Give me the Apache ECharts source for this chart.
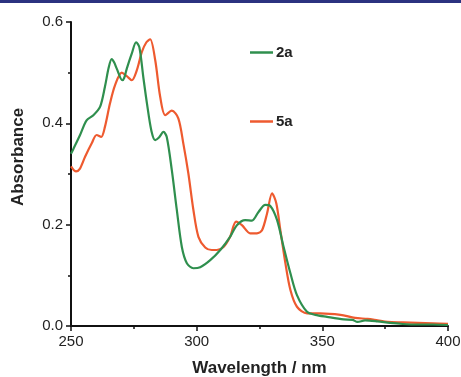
<!DOCTYPE html>
<html>
<head>
<meta charset="utf-8">
<script src="https://cdn.jsdelivr.net/npm/echarts@6/dist/echarts.min.js"></script>
<style>
  html, body { margin: 0; padding: 0; background: #fff; }
  #chart { width: 461px; height: 377px; }
</style>
</head>
<body>
<div id="chart"></div>
<script>
// 2a (green)
const wl2a = [250, 251, 253.6, 256.2, 258.9, 261.6, 263.5, 265, 266.2, 267.2, 268.2, 270.4, 271.2, 272.2, 274.2, 275.9, 277.2, 278.8, 280.2, 282, 283.5, 285, 286.8, 288.1, 290.1, 292.1, 294.1, 296.1, 298.7, 301.4, 305.4, 309.4, 313.3, 316, 319.3, 322, 324.6, 327.3, 329.3, 332, 334.6, 337.3, 339.9, 343.9, 347.2, 351.9, 358.5, 362, 364, 367, 372, 377, 382, 388, 394, 400];
const abs2a = [0.34, 0.35, 0.377, 0.406, 0.416, 0.433, 0.472, 0.51, 0.527, 0.52, 0.508, 0.485, 0.49, 0.508, 0.538, 0.56, 0.55, 0.49, 0.44, 0.385, 0.367, 0.372, 0.383, 0.373, 0.308, 0.229, 0.156, 0.124, 0.114, 0.116, 0.13, 0.15, 0.176, 0.199, 0.209, 0.208, 0.225, 0.239, 0.237, 0.209, 0.156, 0.104, 0.061, 0.028, 0.022, 0.018, 0.013, 0.012, 0.008, 0.011, 0.009, 0.006, 0.004, 0.003, 0.003, 0.002];

// 5a (red)
const wl5a = [250, 252, 253.5, 255.6, 258.2, 260.2, 262, 263.5, 265.5, 267.5, 270.2, 272.2, 274.2, 276.2, 278.2, 280, 281.5, 283.5, 285.5, 287.5, 290.1, 292.7, 294.7, 296.7, 298.7, 300.7, 303.4, 306, 308, 310.7, 313.3, 315.7, 318, 321.3, 324, 326, 328, 330, 331.7, 333.3, 335.3, 337.3, 339.9, 343.9, 349.2, 357.2, 363, 368, 372, 376, 382, 388, 394, 400];
const abs5a = [0.315, 0.305, 0.31, 0.334, 0.36, 0.377, 0.373, 0.393, 0.439, 0.475, 0.5, 0.493, 0.485, 0.505, 0.541, 0.56, 0.566, 0.525, 0.452, 0.416, 0.425, 0.41, 0.36, 0.301, 0.229, 0.176, 0.155, 0.15, 0.15, 0.156, 0.176, 0.206, 0.199, 0.183, 0.183, 0.189, 0.222, 0.262, 0.242, 0.189, 0.124, 0.071, 0.038, 0.025, 0.025, 0.022, 0.016, 0.014, 0.011, 0.008, 0.007, 0.006, 0.005, 0.004];

const GREEN = '#2f8f4e';
const RED = '#ee5a2f';
const FONT = '"Liberation Sans", Arial, sans-serif';

const pairs = (xs, ys) => xs.map((x, i) => [x, ys[i]]);

const chart = echarts.init(document.getElementById('chart'));

const legendBase = {
  left: 245,
  icon: 'rect',
  itemWidth: 23,
  itemHeight: 2.5,
  itemGap: 6,
  textStyle: { fontFamily: FONT, fontSize: 15, fontWeight: 'bold', color: '#222', padding: [0, 0, 0, -2] },
};

chart.setOption({
  backgroundColor: '#fff',
  animation: false,
  graphic: [
    { type: 'rect', shape: { x: 0, y: 0, width: 461, height: 3 }, style: { fill: '#2b3280' } },
  ],
  legend: [
    Object.assign({}, legendBase, { top: 40, data: ['2a'] }),
    Object.assign({}, legendBase, { top: 109, data: ['5a'] }),
  ],
  grid: { left: 71, right: 13, top: 22, bottom: 51, outerBoundsMode: 'none' },
  xAxis: {
    type: 'value',
    min: 250,
    max: 400,
    interval: 50,
    name: 'Wavelength / nm',
    nameLocation: 'middle',
    nameGap: 34,
    nameTextStyle: { fontFamily: FONT, fontSize: 17, fontWeight: 'bold', color: '#222' },
    axisLine: { lineStyle: { color: '#111', width: 2 } },
    axisTick: { length: 5, lineStyle: { color: '#111', width: 1.5 } },
    minorTick: { show: true, splitNumber: 2, length: 3, lineStyle: { color: '#111', width: 1.5 } },
    axisLabel: { fontFamily: FONT, fontSize: 15, color: '#222', margin: 8 },
    splitLine: { show: false },
  },
  yAxis: {
    type: 'value',
    min: 0,
    max: 0.6,
    interval: 0.2,
    name: 'Absorbance',
    nameLocation: 'middle',
    nameGap: 44,
    nameTextStyle: { fontFamily: FONT, fontSize: 17, fontWeight: 'bold', color: '#222', padding: [0, 0, 0, 34] },
    axisLine: { show: true, lineStyle: { color: '#111', width: 2 } },
    axisTick: { show: true, length: 5, lineStyle: { color: '#111', width: 1.5 } },
    minorTick: { show: true, splitNumber: 2, length: 3, lineStyle: { color: '#111', width: 1.5 } },
    axisLabel: { fontFamily: FONT, fontSize: 15, color: '#222', margin: 8, formatter: (v) => v.toFixed(1) },
    splitLine: { show: false },
  },
  series: [
    {
      name: '2a',
      type: 'line',
      data: pairs(wl2a, abs2a),
      symbol: 'none',
      smooth: 0.3,
      lineStyle: { color: GREEN, width: 2.2 },
      itemStyle: { color: GREEN },
      z: 3,
    },
    {
      name: '5a',
      type: 'line',
      data: pairs(wl5a, abs5a),
      symbol: 'none',
      smooth: 0.3,
      lineStyle: { color: RED, width: 2.2 },
      itemStyle: { color: RED },
      z: 2,
    },
  ],
});
</script>
</body>
</html>
